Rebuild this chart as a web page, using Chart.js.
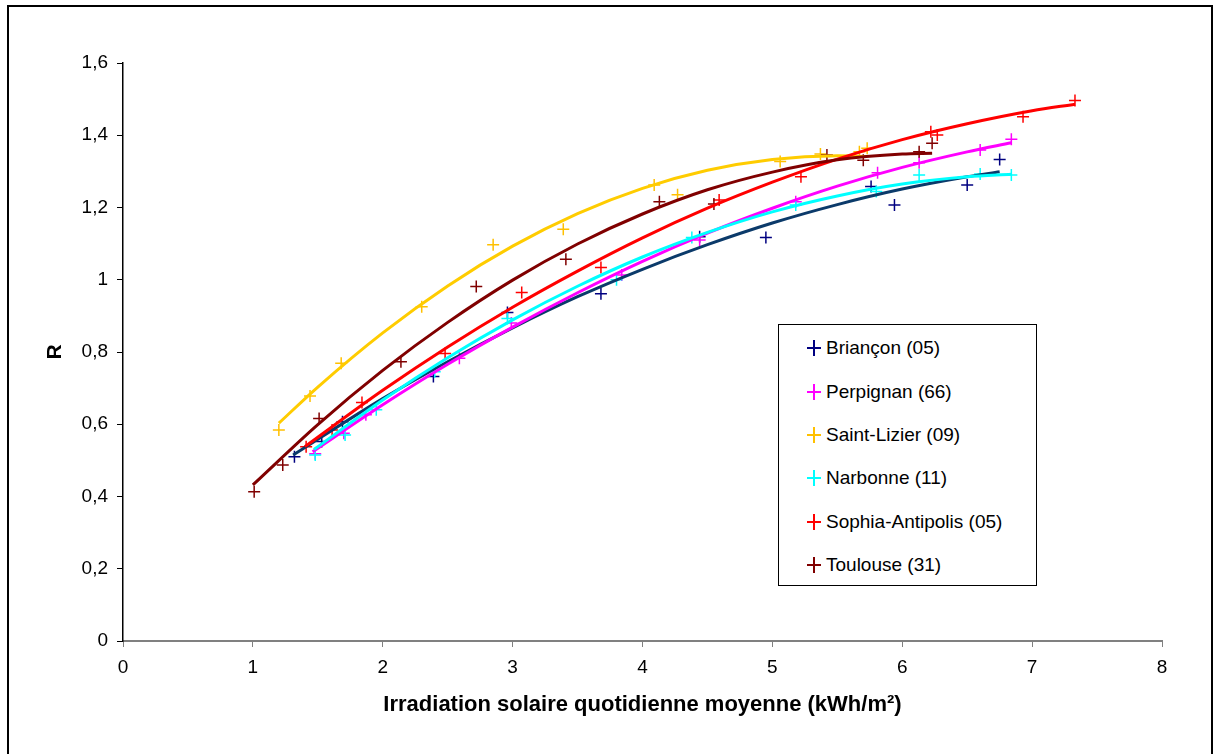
<!DOCTYPE html>
<html>
<head>
<meta charset="utf-8">
<script src="https://cdn.jsdelivr.net/npm/chart.js@4.4.1/dist/chart.umd.min.js"></script>
<style>
  html,body{margin:0;padding:0;background:#fff;}
  #wrap{position:relative;width:1218px;height:754px;overflow:hidden;}
  #frame{position:absolute;left:7px;top:5px;width:1206px;height:760px;border:2px solid #000;box-sizing:border-box;}
  canvas{position:absolute;left:0;top:0;}
  #legend{position:absolute;left:778px;top:324px;width:259px;height:262px;border:1px solid #000;box-sizing:border-box;background:#fff;
    font-family:"Liberation Sans",Arial,sans-serif;font-size:19px;color:#000;}
  #legend .it{position:absolute;left:0;height:24px;line-height:24px;white-space:nowrap;}
  #legend .mk{position:absolute;left:27px;top:0;width:16px;height:24px;}
  #legend .mk:before{content:"";position:absolute;left:1px;top:11px;width:14px;height:2px;background:var(--c);}
  #legend .mk:after{content:"";position:absolute;left:7px;top:4px;width:2px;height:16px;background:var(--c);}
  #legend .tx{position:absolute;left:47px;top:0;}
</style>
</head>
<body>
<div id="wrap">
  <canvas id="c" width="1218" height="754"></canvas>
  <div id="frame"></div>
  <div id="legend"></div>
</div>
<script>
// ---- data ----
const seriesNames = ["Briançon (05)", "Perpignan (66)", "Saint-Lizier (09)", "Narbonne (11)", "Sophia-Antipolis (05)", "Toulouse (31)"];
const markerColors = ["#000080", "#FF00FF", "#FFC000", "#00FFFF", "#FF0000", "#800000"];
const trendColors  = ["#0B3A6A", "#FF00FF", "#FFCC00", "#00FFFF", "#FF0000", "#800000"];

// measured points (irradiation kWh/m2, R)
const brianconX = [1.32, 1.53, 1.69, 2.39, 2.96, 3.68, 4.44, 4.95, 5.76, 5.94, 6.50, 6.75];
const brianconY = [0.510, 0.552, 0.607, 0.732, 0.909, 0.961, 1.119, 1.117, 1.258, 1.207, 1.262, 1.333];
const perpignanX = [1.48, 1.87, 2.59, 2.99, 3.84, 4.44, 5.18, 5.81, 6.13, 6.60, 6.84, 1.70];
const perpignanY = [0.518, 0.626, 0.783, 0.880, 1.013, 1.110, 1.216, 1.296, 1.324, 1.359, 1.389, 0.575];
const saintLizierX = [1.20, 1.44, 1.68, 2.30, 2.85, 3.39, 4.09, 4.27, 5.06, 5.37, 5.67, 5.73];
const saintLizierY = [0.584, 0.678, 0.769, 0.925, 1.097, 1.140, 1.262, 1.235, 1.327, 1.348, 1.354, 1.364];
const narbonneX = [1.48, 1.71, 2.40, 2.96, 3.80, 4.38, 5.18, 5.80, 6.13, 6.60, 6.84, 1.95];
const narbonneY = [0.515, 0.570, 0.745, 0.893, 1.000, 1.117, 1.207, 1.244, 1.290, 1.293, 1.290, 0.640];
const sophiaX = [1.41, 1.61, 1.84, 2.48, 3.07, 3.68, 4.59, 5.22, 6.22, 6.27, 6.93, 7.33];
const sophiaY = [0.538, 0.584, 0.660, 0.796, 0.965, 1.034, 1.221, 1.285, 1.410, 1.401, 1.451, 1.496];
const toulouseX = [1.01, 1.23, 1.51, 2.14, 2.72, 3.41, 4.13, 4.55, 5.42, 5.70, 6.13, 6.23];
const toulouseY = [0.413, 0.487, 0.616, 0.773, 0.981, 1.057, 1.216, 1.210, 1.345, 1.331, 1.354, 1.378];

// trend curves
const brianconTrendX = [1.31, 2.0, 2.5, 3.0, 3.5, 4.0, 4.5, 5.0, 5.5, 6.0, 6.5, 6.75];
const brianconTrendY = [0.515, 0.671, 0.773, 0.867, 0.953, 1.029, 1.097, 1.157, 1.208, 1.251, 1.285, 1.299];
const perpignanTrendX = [1.46, 2.0, 2.5, 3.0, 3.5, 4.0, 4.5, 5.0, 5.5, 6.0, 6.5, 6.84];
const perpignanTrendY = [0.524, 0.654, 0.766, 0.869, 0.964, 1.051, 1.129, 1.198, 1.259, 1.311, 1.354, 1.379];
const saintLizierTrendX = [1.20, 1.5, 2.0, 2.5, 3.0, 3.5, 4.0, 4.5, 5.0, 5.5, 5.73];
const saintLizierTrendY = [0.603, 0.703, 0.853, 0.983, 1.093, 1.183, 1.253, 1.303, 1.333, 1.343, 1.341];
const narbonneTrendX = [1.47, 2.0, 2.5, 3.0, 3.5, 4.0, 4.5, 5.0, 5.5, 6.0, 6.5, 6.84];
const narbonneTrendY = [0.530, 0.667, 0.784, 0.889, 0.982, 1.063, 1.131, 1.188, 1.232, 1.265, 1.285, 1.292];
const sophiaTrendX = [1.40, 2.0, 2.5, 3.0, 3.5, 4.0, 4.5, 5.0, 5.5, 6.0, 6.5, 7.0, 7.33];
const sophiaTrendY = [0.538, 0.694, 0.814, 0.924, 1.024, 1.116, 1.198, 1.270, 1.334, 1.388, 1.432, 1.468, 1.486];
const toulouseTrendX = [1.0, 1.5, 2.0, 2.5, 3.0, 3.5, 4.0, 4.5, 5.0, 5.5, 6.0, 6.23];
const toulouseTrendY = [0.432, 0.599, 0.749, 0.882, 0.999, 1.099, 1.182, 1.249, 1.298, 1.332, 1.348, 1.350];

const xTicks = ["0", "1", "2", "3", "4", "5", "6", "7", "8"];
const yTicks = ["0", "0,2", "0,4", "0,6", "0,8", "1", "1,2", "1,4", "1,6"];
const xTitle = "Irradiation solaire quotidienne moyenne (kWh/m²)";
const yTitle = "R";

// ---- build datasets ----
function pts(xs, ys){ return xs.map((x,i)=>({x:x, y:ys[i]})); }
const pointSets = [[brianconX,brianconY],[perpignanX,perpignanY],[saintLizierX,saintLizierY],[narbonneX,narbonneY],[sophiaX,sophiaY],[toulouseX,toulouseY]];
const trendSets = [[brianconTrendX,brianconTrendY],[perpignanTrendX,perpignanTrendY],[saintLizierTrendX,saintLizierTrendY],[narbonneTrendX,narbonneTrendY],[sophiaTrendX,sophiaTrendY],[toulouseTrendX,toulouseTrendY]];

const datasets = [];
pointSets.forEach((s,i)=>{
  datasets.push({
    label: seriesNames[i], type:'scatter', data: pts(s[0], s[1]),
    showLine:false, pointStyle:'cross', pointRadius:6, pointHoverRadius:6,
    borderColor: markerColors[i], backgroundColor: markerColors[i], pointBorderWidth:1.5,
    order: 20 - i
  });
});
trendSets.forEach((s,i)=>{
  datasets.push({
    label: seriesNames[i] + " trend", type:'line', data: pts(s[0], s[1]),
    showLine:true, pointRadius:0, borderColor: trendColors[i], borderWidth:3,
    cubicInterpolationMode:'monotone', fill:false,
    order: 10 - i
  });
});

const FONT = "'Liberation Sans', Arial, sans-serif";
new Chart(document.getElementById('c'), {
  type:'scatter',
  data:{ datasets },
  options:{
    responsive:false, animation:false, devicePixelRatio:1,
    layout:{ padding:{ left:0, top:63, right:56, bottom:0 } },
    plugins:{ legend:{display:false}, tooltip:{enabled:false} },
    scales:{
      x:{
        type:'linear', min:0, max:8,
        afterBuildTicks: s => { s.ticks = xTicks.map(t=>({value: Number(t)})); },
        afterFit: s => { s.height = 113; },
        ticks:{ font:{family:FONT, size:19}, color:'#000', padding:9, maxRotation:0,
                callback:(v,i)=>xTicks[i] },
        grid:{ drawOnChartArea:false, drawTicks:true, tickLength:6, color:'#808080', lineWidth:1 },
        border:{ display:true, color:'#808080', width:2 },
        title:{ display:true, text:xTitle, font:{family:FONT, size:22, weight:'bold'}, color:'#000', padding:{top:2,bottom:36} }
      },
      y:{
        type:'linear', min:0, max:1.6,
        afterBuildTicks: s => { s.ticks = yTicks.map(t=>({value: Number(t.replace(',','.'))})); },
        afterFit: s => { s.width = 123; },
        ticks:{ font:{family:FONT, size:19}, color:'#000', padding:9,
                callback:(v,i)=>yTicks[i] },
        grid:{ drawOnChartArea:false, drawTicks:true, tickLength:6, color:'#000', lineWidth:1 },
        border:{ display:true, color:'#000', width:1.5 },
        title:{ display:true, text:yTitle, font:{family:FONT, size:21, weight:'bold'}, color:'#000', padding:{top:43,bottom:0} }
      }
    }
  }
});

// ---- legend (HTML) ----
const lg = document.getElementById('legend');
const rowTops = [11, 55, 98, 141, 185, 228];
seriesNames.forEach((n,i)=>{
  const d = document.createElement('div');
  d.className='it'; d.style.top = rowTops[i]+'px';
  d.innerHTML = '<span class="mk" style="--c:'+markerColors[i]+'"></span><span class="tx"></span>';
  d.querySelector('.tx').textContent = n;
  lg.appendChild(d);
});
</script>
</body>
</html>
